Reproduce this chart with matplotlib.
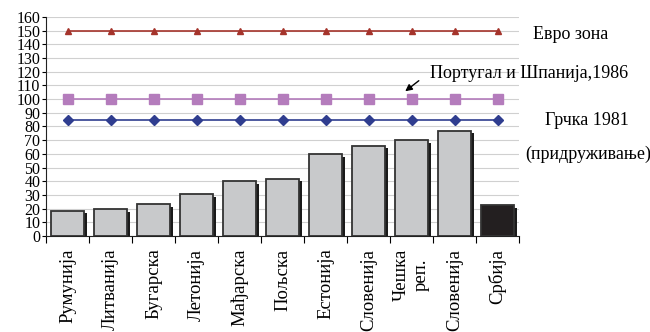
import numpy as np
import matplotlib.pyplot as plt
from matplotlib.patches import FancyArrowPatch

countries = ["Румунија", "Литванија", "Бугарска", "Летонија", "Мађарска", "Пољска",
             "Естонија", "Словенија", "Чешка\nреп.", "Словенија", "Србија"]
values = [18.5, 19.5, 23.5, 30.5, 40, 42, 60, 66, 70, 77, 22.5]
euro_zone = [150] * 11
portugal_spain = [100] * 11
greece = [85] * 11

plt.rcParams["font.family"] = ["Liberation Serif", "DejaVu Serif"]

fig = plt.figure(figsize=(6.5, 3.32), dpi=100)
ax = fig.add_axes([0.0708, 0.289, 0.7277, 0.66])

x = np.arange(len(countries))
colors = ["#c8c9cb"] * 10 + ["#231f20"]

# shadow behind bars
ax.bar(x + 0.07, np.array(values) - 2, width=0.77, color="#1a1a1a", zorder=2)
ax.bar(x, values, width=0.77, color=colors, edgecolor="#333333", linewidth=1.3, zorder=3)

ax.plot(x, euro_zone, color="#a5342c", marker="^", markersize=4.5, linewidth=1.2, zorder=4)
ax.plot(x, portugal_spain, color="#b47cbc", marker="s", markersize=6.5, linewidth=1.2, zorder=4)
ax.plot(x, greece, color="#2f3d8f", marker="D", markersize=5, linewidth=1.2, zorder=4)

ax.set_xlim(-0.5, len(countries) - 0.5)
ax.set_ylim(0, 160)
ax.set_yticks(np.arange(0, 161, 10))
ax.tick_params(axis="y", labelsize=11.5, length=3, pad=1)
ax.yaxis.grid(True, color="#d0d0d0", linewidth=0.8, zorder=0)
ax.set_axisbelow(True)

ax.set_xticks(np.arange(-0.5, len(countries), 1))
ax.set_xticklabels([])
ax.set_xticks(x, minor=True)
ax.set_xticklabels(countries, minor=True, rotation=90, fontsize=13.5, va="top", ha="center",
                   multialignment="center")
ax.tick_params(axis="x", which="major", length=5, direction="out")
ax.tick_params(axis="x", which="minor", length=0, pad=9)

for side in ["top", "right"]:
    ax.spines[side].set_visible(False)
ax.spines["left"].set_color("#222222")
ax.spines["bottom"].set_color("#222222")

fig.text(0.82, 0.895, "Евро зона", fontsize=13, va="center", ha="left")
fig.text(0.662, 0.778, "Португал и Шпанија,1986", fontsize=13, va="center", ha="left")
fig.text(0.838, 0.638, "Грчка 1981", fontsize=13, va="center", ha="left")
fig.text(0.808, 0.535, "(придруживање)", fontsize=13, va="center", ha="left")
fig.add_artist(FancyArrowPatch(
    (421 / 650, 1 - 79 / 332), (403 / 650, 1 - 93 / 332), transform=fig.transFigure,
    arrowstyle="-|>", mutation_scale=10, color="black", linewidth=1))

fig.savefig("out.png", dpi=100)
